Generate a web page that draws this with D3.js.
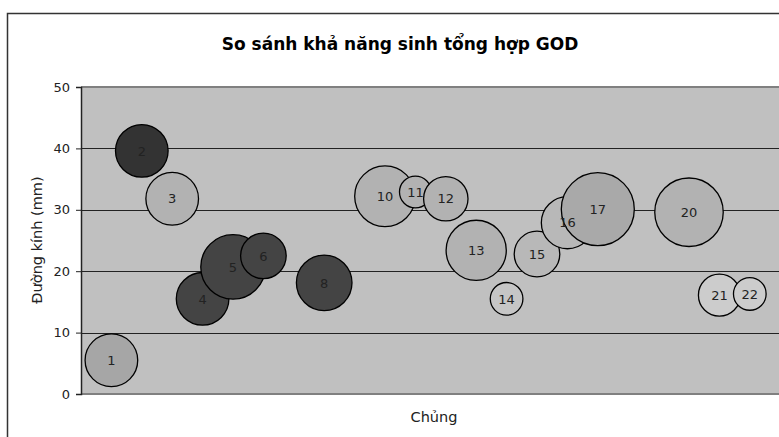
<!DOCTYPE html>
<html><head><meta charset="utf-8">
<script src="https://cdn.jsdelivr.net/npm/d3@7"></script>
<style>
html,body{margin:0;padding:0;background:#fff;}
svg{display:block;}
</style></head>
<body>
<svg id="chart" width="779" height="437"></svg>
<script>
// ---- data ----
const strains = [1, 2, 3, 4, 5, 6, 8, 10, 11, 12, 13, 14, 15, 16, 17, 20, 21, 22];
const diameters = [5.5, 39.6, 31.8, 15.5, 20.7, 22.5, 18.1, 32.2, 32.9, 31.8, 23.4, 15.5, 22.8, 27.9, 30.1, 29.6, 16.1, 16.3];
const bubbleSizes = [52, 52, 52, 52, 78, 39, 58, 69, 19, 37, 68, 20, 39, 51, 100, 88, 33, 20];
const groups = ["b", "a0", "c", "a", "a", "a", "a", "c", "c", "c", "c", "e", "d", "d", "b2", "c", "f", "f"];
const yTicks = [0, 10, 20, 30, 40, 50];
const title = "So sánh khả năng sinh tổng hợp GOD";
const yTitle = "Đường kính (mm)";
const xTitle = "Chủng";

// ---- layout ----
const svg = d3.select("#chart");
const W = 779, H = 437;
const plot = {left: 81, top: 87, right: 780, bottom: 394};
const font = "'DejaVu Sans', sans-serif";

const x = d3.scaleLinear().domain([0, 23]).range([plot.left, plot.left + 23 * 30.4]);
const y = d3.scaleLinear().domain([0, 50]).range([plot.bottom, plot.top]);
const r = d3.scaleSqrt().domain([0, 100]).range([0, 36.5]);
const color = d3.scaleOrdinal()
  .domain(["a0", "a", "b", "b2", "c", "d", "e", "f"])
  .range(["#333333", "#444444", "#a6a6a6", "#a9a9a9", "#b2b2b2", "#b8b8b8", "#c6c6c6", "#cccccc"]);

// outer chart border
svg.append("path")
  .attr("d", `M7.5,${H + 5} V13.5 H${W + 5}`)
  .attr("fill", "none").attr("stroke", "#333").attr("stroke-width", 1.5);

// title
svg.append("text").attr("x", 400).attr("y", 50)
  .attr("text-anchor", "middle").attr("font-family", font)
  .attr("font-weight", "bold").attr("font-size", 17).attr("fill", "#000")
  .text(title);

// plot background
svg.append("rect").attr("x", plot.left).attr("y", plot.top)
  .attr("width", plot.right - plot.left).attr("height", plot.bottom - plot.top)
  .attr("fill", "#c0c0c0");

// gridlines
svg.append("g").selectAll("line").data(yTicks.filter(d => d > 0 && d < 50)).join("line")
  .attr("x1", plot.left).attr("x2", plot.right)
  .attr("y1", d => Math.round(y(d)) + 0.5).attr("y2", d => Math.round(y(d)) + 0.5)
  .attr("stroke", "#222").attr("stroke-width", 1);

// top & bottom plot border
svg.append("line").attr("x1", plot.left).attr("x2", plot.right)
  .attr("y1", plot.top).attr("y2", plot.top).attr("stroke", "#808080").attr("stroke-width", 2);
svg.append("line").attr("x1", plot.left).attr("x2", plot.right)
  .attr("y1", plot.bottom).attr("y2", plot.bottom).attr("stroke", "#808080").attr("stroke-width", 2);

// y axis
const yAxis = d3.axisLeft(y).tickValues(yTicks).tickSize(5).tickPadding(6);
const gy = svg.append("g").attr("transform", `translate(${plot.left},0)`).call(yAxis);
gy.select(".domain").attr("stroke", "#222").attr("stroke-width", 1.5);
gy.selectAll(".tick line").attr("stroke", "#222");
gy.selectAll(".tick text").attr("font-family", font).attr("font-size", 13).attr("fill", "#222");

// bubbles
const data = strains.map((s, i) => ({s, d: diameters[i], z: bubbleSizes[i], g: groups[i]}));
svg.append("g").selectAll("circle").data(data).join("circle")
  .attr("cx", d => x(d.s)).attr("cy", d => y(d.d)).attr("r", d => r(d.z))
  .attr("fill", d => color(d.g))
  .attr("stroke", "#000").attr("stroke-width", 1.3);

svg.append("g").selectAll("text").data(data).join("text")
  .attr("x", d => x(d.s)).attr("y", d => y(d.d)).attr("dy", "0.36em")
  .attr("text-anchor", "middle").attr("font-family", font).attr("font-size", 13)
  .attr("fill", "#222").text(d => d.s);

// axis titles
svg.append("text").attr("transform", `translate(42,240) rotate(-90)`)
  .attr("text-anchor", "middle").attr("font-family", font).attr("font-size", 14.5)
  .attr("fill", "#222").text(yTitle);
svg.append("text").attr("x", 434).attr("y", 422)
  .attr("text-anchor", "middle").attr("font-family", font).attr("font-size", 14.5)
  .attr("fill", "#222").text(xTitle);
</script>
</body></html>
